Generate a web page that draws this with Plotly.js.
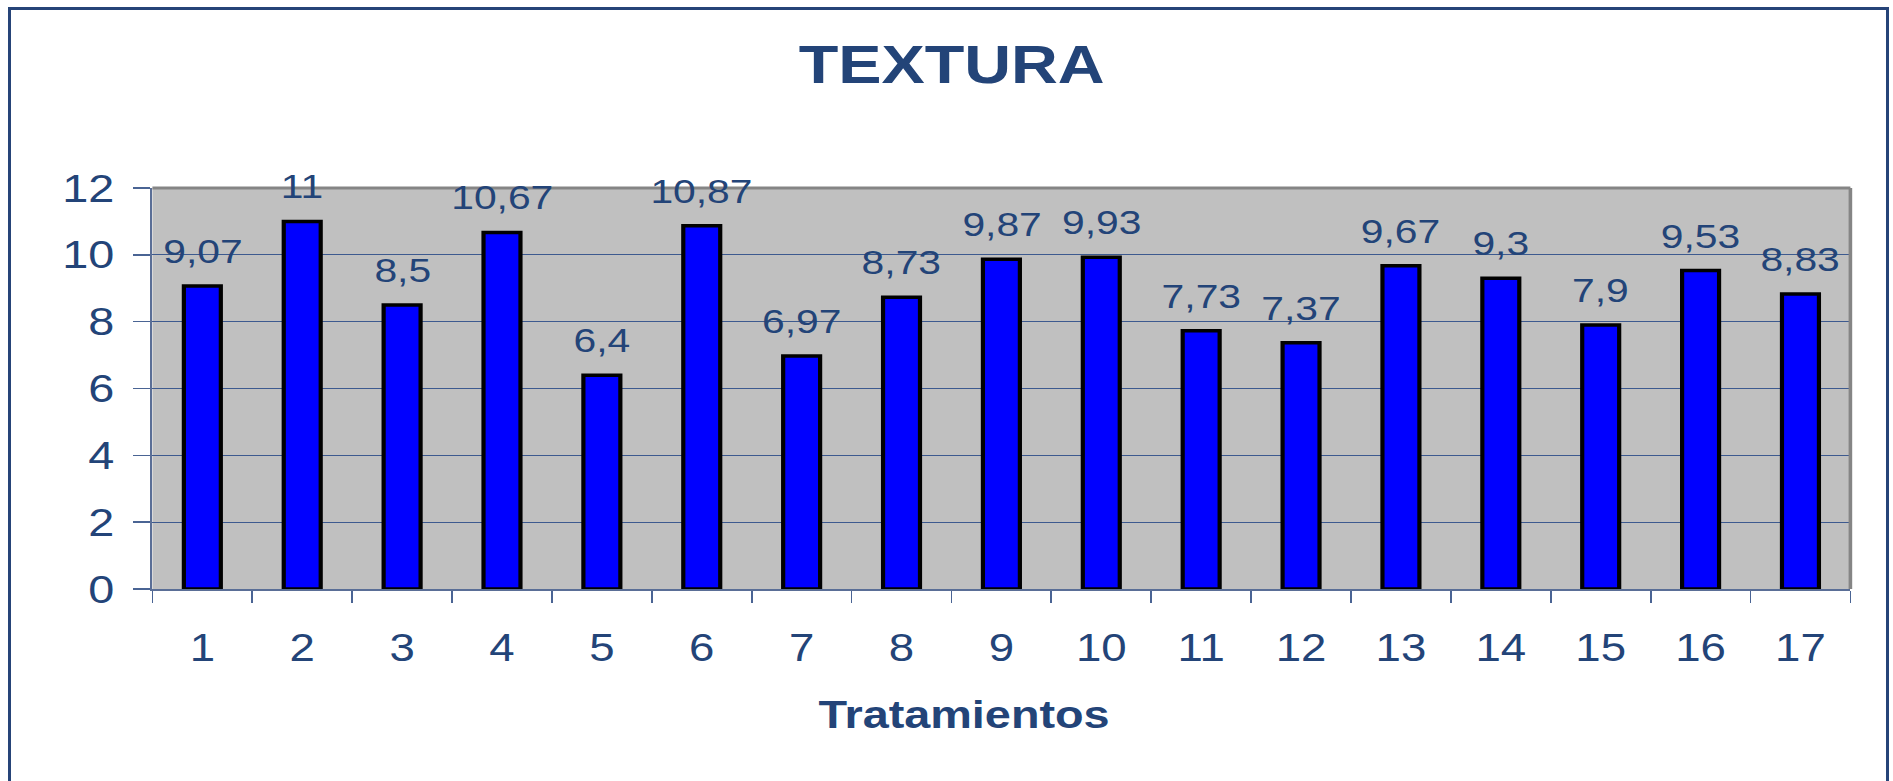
<!DOCTYPE html>
<html>
<head>
<meta charset="utf-8">
<script src="https://cdn.plot.ly/plotly-3.0.1.min.js"></script>
<style>
  html, body { margin:0; padding:0; background:#ffffff; overflow:hidden; width:1893px; height:781px; }
  #chart { position:absolute; left:0; top:0; width:1578px; height:781px; transform:scaleX(1.2); transform-origin:0 0; }
  #frame { position:absolute; left:8px; top:7px; width:1881px; height:900px; border:3.5px solid #264478; box-sizing:border-box; pointer-events:none; }
</style>
</head>
<body>
<div id="chart"></div>
<div id="frame"></div>
<script>
// ---- data ----
const chartTitle = "TEXTURA";
const xAxisTitle = "Tratamientos";
const categories = ["1","2","3","4","5","6","7","8","9","10","11","12","13","14","15","16","17"];
const values = [9.07, 11, 8.5, 10.67, 6.4, 10.87, 6.97, 8.73, 9.87, 9.93, 7.73, 7.37, 9.67, 9.3, 7.9, 9.53, 8.83];
const yTicks = [0, 2, 4, 6, 8, 10, 12];

// ---- style ----
const textBlue = "#234478";
const fontFam = "'Liberation Sans', Arial, sans-serif";

const labels = values.map(v => String(v).replace(".", ","));

const trace = {
  type: "bar",
  x: categories,
  y: values,
  width: 0.37,
  marker: { color: "#0000FF", line: { color: "#000000", width: 3.5 } },
  hoverinfo: "x+y"
};

// annotation x on a category axis: use the category index
const annotations = categories.map((c, i) => ({
  x: i, y: values[i], xref: "x", yref: "y",
  text: labels[i], showarrow: false,
  yanchor: "bottom", xanchor: "center", yshift: 14,
  font: { family: fontFam, size: 34, color: textBlue }
}));

annotations.push({
  text: "<b>" + xAxisTitle + "</b>",
  xref: "paper", yref: "paper", x: 0.478, y: -0.312,
  xanchor: "center", yanchor: "middle", showarrow: false,
  font: { family: fontFam, size: 39, color: textBlue }
});

const layout = {
  width: 1578, height: 781,
  margin: { l: 127, r: 36, t: 188, b: 192 },
  paper_bgcolor: "#ffffff",
  plot_bgcolor: "#C0C0C0",
  showlegend: false,
  title: {
    text: "<b>" + chartTitle + "</b>",
    font: { family: fontFam, size: 54, color: textBlue },
    x: 793 / 1578, xref: "container", xanchor: "center",
    y: 1 - 64 / 781, yref: "container", yanchor: "middle"
  },
  xaxis: {
    type: "category",
    range: [-0.5, categories.length - 0.5],
    tickson: "boundaries",
    ticks: "outside", ticklen: 12, tickwidth: 1.5, tickcolor: "#4a6494",
    ticklabelstandoff: 24,
    showline: true, linecolor: "#5a6e96", linewidth: 2,
    showgrid: false, zeroline: false,
    tickfont: { family: fontFam, size: 38, color: textBlue },
    fixedrange: true
  },
  yaxis: {
    range: [0, 12],
    tickvals: yTicks,
    ticktext: yTicks.map(String),
    ticks: "outside", ticklen: 14, tickwidth: 1.5, tickcolor: "#4a6494",
    ticklabelstandoff: 8,
    showline: true, linecolor: "#5a6e96", linewidth: 2,
    showgrid: true, gridcolor: "#3d5a8f", gridwidth: 1,
    zeroline: false,
    tickfont: { family: fontFam, size: 39, color: textBlue },
    fixedrange: true
  },
  shapes: [
    { type: "line", xref: "paper", yref: "paper", x0: 0, x1: 1, y0: 1, y1: 1, line: { color: "#858585", width: 3 } },
    { type: "line", xref: "paper", yref: "paper", x0: 1, x1: 1, y0: 0, y1: 1, line: { color: "#858585", width: 3 } }
  ],
  annotations: annotations
};

Plotly.newPlot("chart", [trace], layout, { displayModeBar: false, staticPlot: true });
</script>
</body>
</html>
